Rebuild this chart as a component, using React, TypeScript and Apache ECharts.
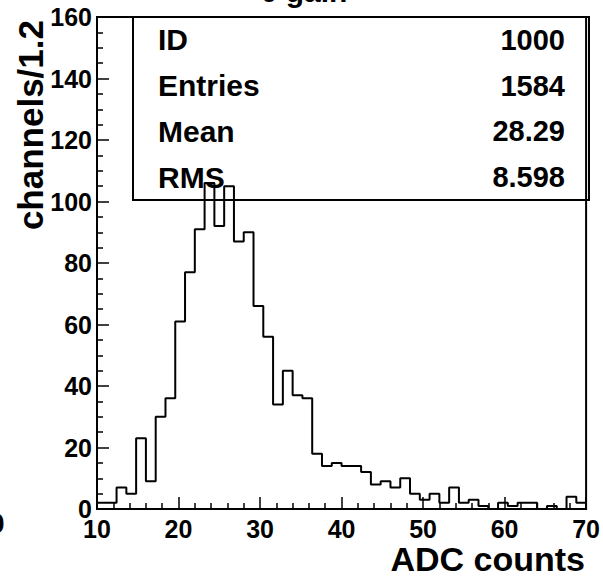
import React, { useEffect, useRef } from "react";
import * as echarts from "echarts";

// Histogram definition (ROOT style): 50 bins from 10 to 70, width 1.2
const binLow = 10;
const binWidth = 1.2;
const counts = [
  2, 2, 7, 5, 23, 9, 30, 36, 61, 77,
  91, 106, 92, 105, 87, 90, 66, 56, 34, 45,
  37, 36, 18, 14, 15, 14, 14, 12, 8, 9,
  7, 10, 5, 3, 5, 2, 7, 2, 3, 1,
  0, 2, 1, 2, 2, 0, 1, 0, 4, 2,
];
const xTicks = [10, 20, 30, 40, 50, 60, 70];
const yTicks = [0, 20, 40, 60, 80, 100, 120, 140, 160];
const statsLabels = ["ID", "Entries", "Mean", "RMS"];
const statsValues = ["1000", "1584", "28.29", "8.598"];
const title = "0 gain";
const xTitle = "ADC counts";
const yTitle = "channels/1.2";

const FONT = "'Liberation Sans', Arial, Helvetica, sans-serif";

export default function App() {
  const ref = useRef<HTMLDivElement>(null);
  useEffect(() => {
    if (!ref.current) return;
    const chart = echarts.init(ref.current, undefined, { renderer: "svg" });
    const pts: [number, number][] = counts.map((c, i) => [binLow + i * binWidth, c]);
    pts.push([binLow + counts.length * binWidth, counts[counts.length - 1]]);

    const gridLeft = 97, gridRight = 14, gridTop = 17, gridBottom = 67;
    const boxTop = 17, boxBottom = 200, boxLeft = 133, boxRight = 589;
    const rowH = (boxBottom - boxTop) / statsLabels.length;

    const graphics: any[] = [
      {
        type: "text",
        x: 304,
        y: -9,
        style: { text: title, font: `bold 30px ${FONT}`, fill: "#000", align: "center", verticalAlign: "middle" },
        silent: true,
      },
      {
        type: "rect",
        shape: { x: boxLeft, y: boxTop, width: boxRight - boxLeft, height: boxBottom - boxTop },
        style: { fill: "none", stroke: "#000", lineWidth: 2 },
        z: 10,
        silent: true,
      },
      {
        type: "text",
        x: 585,
        y: 559,
        style: { text: xTitle, font: `bold 34px ${FONT}`, fill: "#000", align: "right", verticalAlign: "middle" },
        silent: true,
      },
      {
        type: "text",
        x: 30,
        y: 20,
        rotation: Math.PI / 2,
        style: { text: yTitle, font: `bold 35px ${FONT}`, fill: "#000", align: "right", verticalAlign: "middle" },
        silent: true,
      },
      {
        type: "text",
        x: -3,
        y: 524,
        style: { text: "0", font: `bold 27px ${FONT}`, fill: "#000", align: "center", verticalAlign: "middle" },
        silent: true,
      },
    ];
    statsLabels.forEach((lab, i) => {
      const cy = boxTop + rowH * (i + 0.5);
      graphics.push({
        type: "text",
        x: 158,
        y: cy,
        z: 11,
        style: { text: lab, font: `bold 30px ${FONT}`, fill: "#000", align: "left", verticalAlign: "middle" },
        silent: true,
      });
      graphics.push({
        type: "text",
        x: 565,
        y: cy,
        z: 11,
        style: { text: statsValues[i], font: `bold 29px ${FONT}`, fill: "#000", align: "right", verticalAlign: "middle" },
        silent: true,
      });
    });

    chart.setOption({
      animation: false,
      backgroundColor: "#fff",
      grid: {
        left: gridLeft,
        right: gridRight,
        top: gridTop,
        bottom: gridBottom,
        show: true,
        borderColor: "#000",
        borderWidth: 2,
        backgroundColor: "transparent",
      },
      xAxis: {
        type: "value",
        min: xTicks[0],
        max: xTicks[xTicks.length - 1],
        interval: 10,
        axisLine: { show: true, lineStyle: { color: "#000", width: 2 } },
        axisTick: { show: true, inside: true, length: 12, lineStyle: { color: "#000", width: 1.5 } },
        minorTick: { show: true, splitNumber: 5, length: 6, lineStyle: { color: "#000", width: 1.5 } },
        axisLabel: { color: "#000", fontFamily: FONT, fontWeight: "bold", fontSize: 25, margin: 7 },
        splitLine: { show: false },
      },
      yAxis: {
        type: "value",
        min: yTicks[0],
        max: yTicks[yTicks.length - 1],
        interval: 20,
        axisLine: { show: true, lineStyle: { color: "#000", width: 2 } },
        axisTick: { show: true, inside: true, length: 12, lineStyle: { color: "#000", width: 1.5 } },
        minorTick: { show: true, splitNumber: 4, length: 6, lineStyle: { color: "#000", width: 1.5 } },
        axisLabel: { color: "#000", fontFamily: FONT, fontWeight: "bold", fontSize: 25, margin: 5 },
        splitLine: { show: false },
      },
      graphic: graphics,
      series: [
        {
          type: "line",
          step: "end",
          data: pts,
          symbol: "none",
          lineStyle: { color: "#000", width: 2 },
          z: 5,
        },
      ],
    });
    return () => chart.dispose();
  }, []);
  return (
    <div
      ref={ref}
      style={{ position: "fixed", left: 0, top: 0, width: 603, height: 576, background: "#fff" }}
    />
  );
}
